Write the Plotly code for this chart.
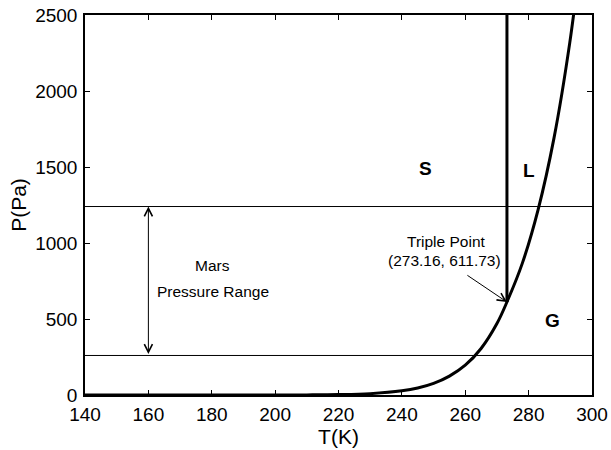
import plotly.graph_objects as go

# Sublimation / vaporization curve of water (T in K, P in Pa)
curve_T = [140, 160, 180, 200, 210, 220, 230, 240, 245, 250, 255, 260, 265, 270,
           273.16, 278, 283, 288, 293, 296]
curve_P = [0, 0, 0.005, 0.16, 0.7, 2.65, 9.0, 27.3, 45.5, 76.0, 124.0, 196.0, 306.0, 470.0,
           611.73, 866.0, 1220.0, 1690.0, 2320.0, 2810.0]

# Solid-liquid boundary
melt_T = [273.16, 273.16]
melt_P = [611.73, 2500]

# Mars pressure range
mars_P = [260, 1240]
mars_arrow_T = 160

triple_T = 273.16
triple_P = 611.73

phase_labels = ["S", "L", "G"]
phase_T = [247.3, 280.2, 287.6]
phase_P = [1491, 1480, 493]

fig = go.Figure()

fig.add_trace(go.Scatter(x=curve_T, y=curve_P, mode="lines",
                         line=dict(color="black", width=3, shape="spline", smoothing=1.0),
                         showlegend=False, hoverinfo="skip", cliponaxis=True))
fig.add_trace(go.Scatter(x=melt_T, y=melt_P, mode="lines",
                         line=dict(color="black", width=3),
                         showlegend=False, hoverinfo="skip"))

for p in mars_P:
    fig.add_shape(type="line", xref="x", yref="y", x0=140, x1=300, y0=p, y1=p,
                  line=dict(color="black", width=1))

# double arrow for Mars range
fig.add_annotation(x=mars_arrow_T, y=mars_P[1], ax=mars_arrow_T, ay=mars_P[0],
                   xref="x", yref="y", axref="x", ayref="y", text="",
                   showarrow=True, arrowhead=5, startarrowhead=5, arrowside="end+start",
                   arrowwidth=1, arrowsize=1.6, startarrowsize=1.6, arrowcolor="black")

ann_font = dict(size=15.5, color="black")
fig.add_annotation(x=180.3, y=855, text="Mars", showarrow=False, font=ann_font)
fig.add_annotation(x=180.3, y=680, text="Pressure Range", showarrow=False, font=ann_font)

# triple point
fig.add_annotation(x=triple_T, y=triple_P, ax=260.2, ay=794, xref="x", yref="y",
                   axref="x", ayref="y", text="", showarrow=True, arrowhead=5,
                   arrowwidth=1, arrowsize=1.6, arrowcolor="black")
fig.add_annotation(x=254.0, y=1009, text="Triple Point", showarrow=False, font=ann_font)
fig.add_annotation(x=253.6, y=888, text="(%.2f, %.2f)" % (triple_T, triple_P),
                   showarrow=False, font=ann_font)

for lab, t, p in zip(phase_labels, phase_T, phase_P):
    fig.add_annotation(x=t, y=p, text="<b>%s</b>" % lab, showarrow=False,
                       font=dict(size=19, color="black"))

axis_common = dict(showgrid=False, zeroline=False, showline=True, linecolor="black",
                   linewidth=1.5, mirror="ticks", ticks="inside", ticklen=5,
                   tickwidth=1, tickcolor="black", automargin=False,
                   tickfont=dict(size=19, color="black"))

fig.update_xaxes(range=[140, 300], tickvals=list(range(140, 301, 20)),
                 ticklabelstandoff=1,
                 title=dict(text="T(K)", font=dict(size=21, color="black"), standoff=1),
                 **axis_common)
fig.update_yaxes(range=[0, 2500], tickvals=list(range(0, 2501, 500)),
                 ticklabelstandoff=2,
                 title=dict(text="P(Pa)", font=dict(size=21, color="black"), standoff=3),
                 **axis_common)

fig.update_layout(width=611, height=450,
                  margin=dict(l=85, r=19, t=15, b=55),
                  plot_bgcolor="white", paper_bgcolor="white",
                  font=dict(family="Liberation Sans, Arial, sans-serif", color="black"),
                  showlegend=False)

fig.write_html("out.html", config={"displayModeBar": False},
               post_script="document.body.style.margin='0';document.body.style.overflow='hidden';")
